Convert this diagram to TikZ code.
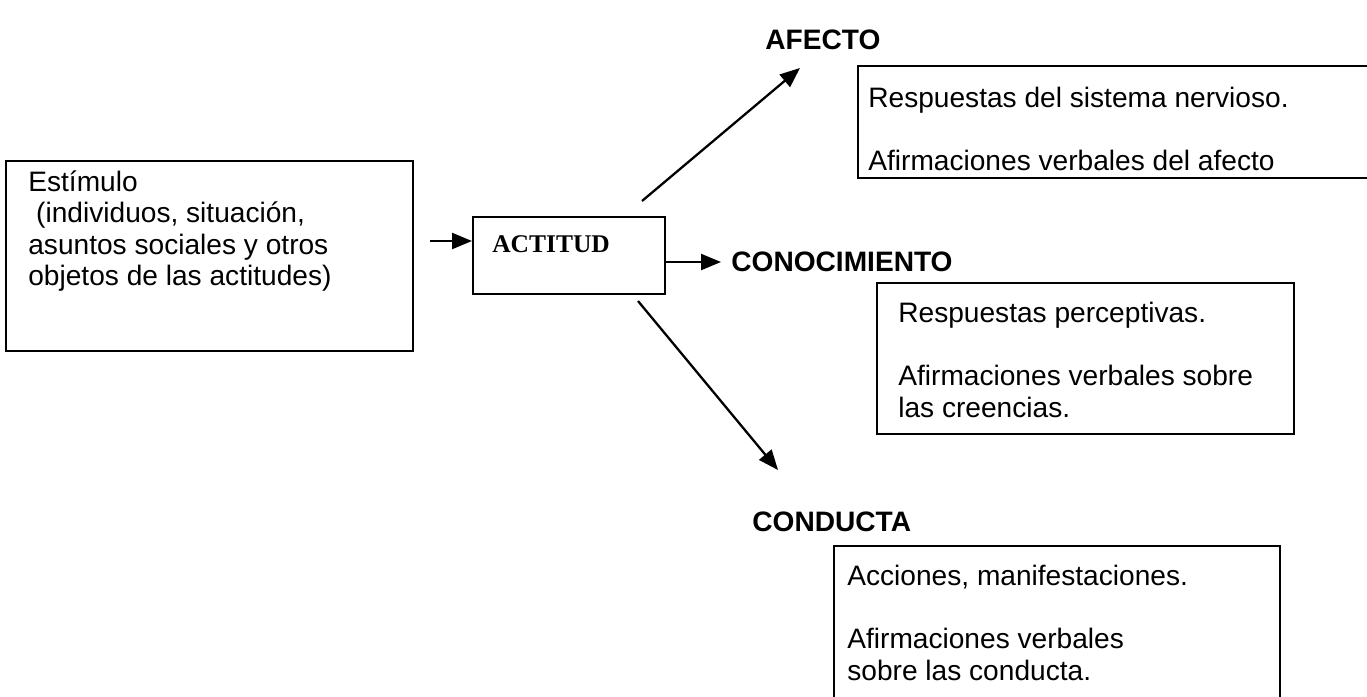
\documentclass[tikz,border=0pt]{standalone}
\usepackage{fontspec}
\setmainfont{Liberation Sans}
\newfontfamily\timesfont{Liberation Serif}
\usetikzlibrary{positioning, arrows.meta}

\begin{document}
\begin{tikzpicture}[x = .02cm, y = -.02cm,
	box/.style={draw, line width=1pt, inner sep=0, anchor=north west},
	txt/.style={inner sep=0, anchor=north west, align=left, font=\fontsize{16}{18}\selectfont},
	head/.style={inner sep=0, anchor=west, font=\bfseries\fontsize{16}{19}\selectfont},
	arr/.style={line width=1.3pt, -{Triangle[length=.4cm, width=.32cm]}}]

% page size
	\useasboundingbox (0,0) rectangle (1367,697);

% boxes
	\node[box, minimum width=8.14cm, minimum height=3.8cm] (estimulo) at (5,160) {};
	\node[box, minimum width=3.84cm, minimum height=1.54cm] (actitud) at (472,216) {};
	\node[box, minimum width=10.5cm, minimum height=2.24cm] (afectobox) at (857,65) {};
	\node[box, minimum width=8.34cm, minimum height=3.02cm] (conocbox) at (876,282) {};
	\node[box, minimum width=8.92cm, minimum height=3.6cm] (conductabox) at (833,545) {};

% box texts
	\node[txt] (estimulotxt) at ([shift={(23,10)}]estimulo.north west)
		{Estímulo\\ \hspace*{.28em}(individuos, situación,\\ asuntos sociales y otros\\ objetos de las actitudes)};
	\node[inner sep=0, anchor=west, font=\timesfont\bfseries\fontsize{14.5}{16}\selectfont] (actitudtxt)
		at (492,244) {ACTITUD};
	\node[txt] (afectotxt) at ([shift={(11,22)}]afectobox.north west)
		{Respuestas del sistema nervioso.\\[18pt] Afirmaciones verbales del afecto};
	\node[txt] (conoctxt) at ([shift={(22,20)}]conocbox.north west)
		{Respuestas perceptivas.\\[18pt] Afirmaciones verbales sobre\\ las creencias.};
	\node[txt] (conductatxt) at ([shift={(14,20)}]conductabox.north west)
		{Acciones, manifestaciones.\\[18pt] Afirmaciones verbales\\ sobre las conducta.};

% headings
	\node[head] (afecto) at (765,40) {AFECTO};
	\node[head] (conoc) at (731,262) {CONOCIMIENTO};
	\node[head] (conducta) at (752,522) {CONDUCTA};

% arrows
	\coordinate (in) at (430,241);
	\coordinate (up1) at (642,201);
	\coordinate (up2) at (800,68);
	\coordinate (dn1) at (638,301);
	\coordinate (dn2) at (778,470);
	\draw[arr] (in) -- (in -| actitud.west);
	\draw[arr, shorten >=.2cm] (actitud.east |- conoc.west) -- (conoc.west);
	\draw[arr] (up1) -- (up2);
	\draw[arr] (dn1) -- (dn2);

\end{tikzpicture}
\end{document}
